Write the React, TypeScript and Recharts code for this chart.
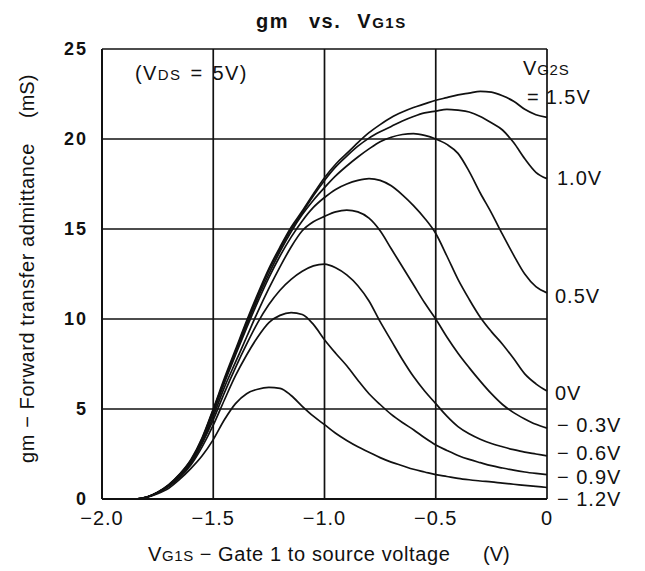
import React from 'react';
import { LineChart, Line, XAxis, YAxis, CartesianGrid } from 'recharts';

// gate-1 voltage grid (V)
const V_G1S = [
  -2.0, -1.9, -1.85, -1.8, -1.75, -1.7, -1.65, -1.6, -1.55, -1.5,
  -1.45, -1.4, -1.35, -1.3, -1.25, -1.2, -1.15, -1.1, -1.05, -1.0,
  -0.95, -0.9, -0.85, -0.8, -0.75, -0.7, -0.65, -0.6, -0.55, -0.5,
  -0.45, -0.4, -0.35, -0.3, -0.25, -0.2, -0.15, -0.1, -0.05, 0,
];

// gm (mS) for each VG2S
const GM_P15 = [
  0, 0, 0, 0.1, 0.38, 0.8, 1.4, 2.2, 3.4, 5.0,
  6.7, 8.3, 9.9, 11.4, 12.8, 14.0, 15.1, 16.0, 16.95, 17.85,
  18.6, 19.2, 19.8, 20.35, 20.8, 21.2, 21.5, 21.75, 21.95, 22.15,
  22.3, 22.45, 22.55, 22.65, 22.6, 22.4, 22.1, 21.65, 21.35, 21.2,
];
const GM_P10 = [
  0, 0, 0, 0.1, 0.37, 0.78, 1.38, 2.15, 3.35, 4.95,
  6.6, 8.2, 9.8, 11.3, 12.7, 13.9, 15.0, 15.9, 16.85, 17.7,
  18.45, 19.05, 19.6, 20.05, 20.4, 20.7, 21.0, 21.25, 21.45, 21.55,
  21.65, 21.6, 21.5, 21.25, 20.9, 20.5, 19.8, 18.9, 18.15, 17.8,
];
const GM_P05 = [
  0, 0, 0, 0.1, 0.36, 0.76, 1.35, 2.1, 3.3, 4.9,
  6.55, 8.1, 9.65, 11.15, 12.5, 13.75, 14.85, 15.8, 16.6, 17.3,
  17.95, 18.5, 19.0, 19.45, 19.85, 20.1, 20.25, 20.3, 20.2, 20.0,
  19.7, 19.2, 18.2, 17.0, 15.9, 14.7, 13.55, 12.5, 11.8, 11.45,
];
const GM_0 = [
  0, 0, 0, 0.1, 0.35, 0.75, 1.32, 2.05, 3.2, 4.8,
  6.45, 8.0, 9.5, 10.95, 12.3, 13.5, 14.55, 15.45, 16.2, 16.75,
  17.2, 17.5, 17.7, 17.8, 17.7, 17.4, 16.9, 16.3, 15.6, 14.75,
  13.5, 12.2, 11.1, 10.1, 9.3, 8.6, 7.8, 6.95, 6.4, 6.0,
];
const GM_M03 = [
  0, 0, 0, 0.1, 0.35, 0.74, 1.3, 2.0, 3.1, 4.6,
  6.2, 7.6, 9.0, 10.4, 11.7, 12.9, 14.0, 14.9, 15.4, 15.7,
  15.95, 16.05, 15.95, 15.6, 14.9, 13.9, 12.9, 11.9, 10.9, 10.0,
  9.0, 8.1, 7.3, 6.55, 5.85, 5.25, 4.8, 4.45, 4.15, 3.94,
];
const GM_M06 = [
  0, 0, 0, 0.1, 0.35, 0.72, 1.25, 2.0, 3.1, 4.4,
  5.9, 7.3, 8.6, 9.8, 10.8, 11.6, 12.2, 12.65, 12.95, 13.05,
  12.85, 12.45, 11.85, 11.0, 9.85, 8.8, 7.75, 6.8, 6.0, 5.3,
  4.6, 4.02, 3.62, 3.32, 3.08, 2.9, 2.74, 2.6, 2.5, 2.4,
];
const GM_M09 = [
  0, 0, 0, 0.1, 0.35, 0.7, 1.2, 1.9, 2.9, 4.1,
  5.5, 6.85, 8.0, 9.0, 9.8, 10.2, 10.35, 10.25, 9.7, 8.85,
  8.1, 7.4, 6.6, 5.85, 5.25, 4.7, 4.25, 3.85, 3.4, 3.0,
  2.7, 2.42, 2.2, 2.02, 1.85, 1.72, 1.6, 1.5, 1.42, 1.35,
];
const GM_M12 = [
  0, 0, 0, 0.1, 0.3, 0.6, 1.1, 1.7, 2.4, 3.3,
  4.4, 5.3, 5.85, 6.1, 6.2, 6.15, 5.75, 5.15, 4.6, 4.13,
  3.65, 3.25, 2.9, 2.6, 2.3, 2.05, 1.85, 1.65, 1.5, 1.35,
  1.25, 1.15, 1.07, 1.0, 0.95, 0.88, 0.82, 0.76, 0.7, 0.64,
];

const X_TICKS = [-2, -1.5, -1, -0.5, 0];
const X_TICK_LABELS = ['\u22122.0', '\u22121.5', '\u22121.0', '\u22120.5', '0'];
const Y_TICKS = [0, 5, 10, 15, 20, 25];

const SERIES = [
  { key: 'p15', values: GM_P15 },
  { key: 'p10', values: GM_P10 },
  { key: 'p05', values: GM_P05 },
  { key: 'z0', values: GM_0 },
  { key: 'm03', values: GM_M03 },
  { key: 'm06', values: GM_M06 },
  { key: 'm09', values: GM_M09 },
  { key: 'm12', values: GM_M12 },
];

const FONT = '"Liberation Sans", Arial, Helvetica, sans-serif';
const INK = '#111';

const data = V_G1S.map((v, i) => {
  const row: Record<string, number> = { v };
  SERIES.forEach((s) => {
    row[s.key] = s.values[i];
  });
  return row;
});

// right-hand curve labels
const RIGHT_LABELS = [
  { text: '1.0V', x: 557, y: 185 },
  { text: '0.5V', x: 555, y: 303 },
  { text: '0V', x: 555, y: 400 },
  { text: '\u2212 0.3V', x: 557, y: 432 },
  { text: '\u2212 0.6V', x: 557, y: 460 },
  { text: '\u2212 0.9V', x: 557, y: 484 },
  { text: '\u2212 1.2V', x: 557, y: 506 },
];

const App: React.FC = () => {
  return (
    <div style={{ position: 'absolute', left: 0, top: 0, width: 645, height: 571, background: '#fff' }}>
      <LineChart
        width={645}
        height={571}
        data={data}
        margin={{ top: 49, right: 98, bottom: 42, left: 42 }}
      >
        <CartesianGrid stroke={INK} strokeWidth={1.7} strokeDasharray="" />
        <XAxis
          dataKey="v"
          type="number"
          domain={[-2, 0]}
          ticks={X_TICKS}
          tickFormatter={(v: number) => X_TICK_LABELS[X_TICKS.indexOf(v)] ?? String(v)}
          tickLine={false}
          tickMargin={6}
          height={30}
          axisLine={{ stroke: INK, strokeWidth: 2 }}
          tick={{ fill: INK, fontSize: 20, fontFamily: FONT, letterSpacing: 1 }}
        />
        <YAxis
          type="number"
          domain={[0, 25]}
          ticks={Y_TICKS}
          tickLine={false}
          tickMargin={8}
          width={60}
          axisLine={{ stroke: INK, strokeWidth: 2 }}
          tick={{ fill: INK, fontSize: 18, fontWeight: 'bold', fontFamily: FONT, letterSpacing: 2 }}
        />
        {SERIES.map((s) => (
          <Line
            key={s.key}
            dataKey={s.key}
            type="monotone"
            stroke={INK}
            strokeWidth={1.7}
            dot={false}
            activeDot={false}
            isAnimationActive={false}
          />
        ))}
      </LineChart>
      <svg
        width={645}
        height={571}
        style={{ position: 'absolute', left: 0, top: 0, pointerEvents: 'none' }}
        fontFamily={FONT}
        fill={INK}
      >
        <text x={256} y={28} fontSize={20} fontWeight="bold" letterSpacing={1.5}>
          gm
          <tspan dx={20}>vs.</tspan>
          <tspan dx={16}>V</tspan>
          <tspan fontSize={15}>G1S</tspan>
        </text>
        <text x={135} y={80} fontSize={20} letterSpacing={1.4}>
          (V<tspan fontSize={15}>DS</tspan>
          <tspan dx={9}>=</tspan>
          <tspan dx={9}>5V)</tspan>
        </text>
        <text x={523} y={75} fontSize={20} letterSpacing={0.8}>
          V<tspan fontSize={15}>G2S</tspan>
        </text>
        <text x={527} y={104} fontSize={20} letterSpacing={1}>
          =<tspan dx={6}>1.5V</tspan>
        </text>
        {RIGHT_LABELS.map((l) => (
          <text key={l.text} x={l.x} y={l.y} fontSize={20} letterSpacing={1}>
            {l.text}
          </text>
        ))}
        <text x={148} y={561} fontSize={20} letterSpacing={0.6}>
          V<tspan fontSize={15}>G1S</tspan>
          <tspan dx={6}>{'\u2212'}</tspan>
          <tspan dx={6}>Gate 1 to source voltage</tspan>
        </text>
        <text x={483} y={561} fontSize={20}>
          (V)
        </text>
        <g transform="translate(34, 0)">
          <text transform="rotate(-90)" x={-463} y={0} fontSize={20} letterSpacing={0.6}>
            gm {'\u2212'} Forward transfer admittance
          </text>
          <text transform="rotate(-90)" x={-118} y={0} fontSize={20}>
            (mS)
          </text>
        </g>
      </svg>
    </div>
  );
};

export default App;
